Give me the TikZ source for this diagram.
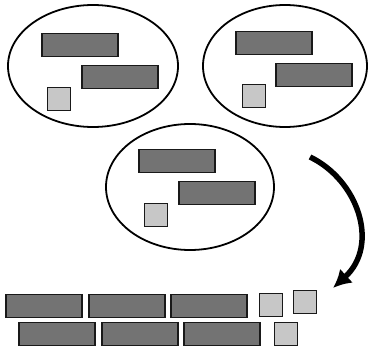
\documentclass[tikz,border=0pt]{standalone}
\usetikzlibrary{arrows.meta}
\begin{document}
\begin{tikzpicture}[x=1pt,y=-1pt,>={Latex[length=18pt,width=19pt]},
  bar/.style={draw=black!90,line width=1.6pt,fill=black!55,minimum width=76pt,minimum height=23pt,inner sep=0pt},
  chip/.style={draw=black!90,line width=1.6pt,fill=black!22,minimum width=23pt,minimum height=23pt,inner sep=0pt}]
\useasboundingbox (0,0) rectangle (368,348);
% groups
\draw[line width=1.8pt] (93,66) ellipse (85pt and 61pt);
\draw[line width=1.8pt] (285,66) ellipse (82pt and 61pt);
\draw[line width=1.8pt] (190,187) ellipse (84pt and 63pt);
\node[bar] (a1) at (80,45) {};
\node[bar] (a2) at (120,77) {};
\node[chip] (a3) at (59,99) {};
\node[bar] (b1) at (274,43) {};
\node[bar] (b2) at (314,75) {};
\node[chip] (b3) at (254,96) {};
\node[bar] (c1) at (177,161) {};
\node[bar] (c2) at (217,193) {};
\node[chip] (c3) at (156,215) {};
% merged row
\node[bar] (r1) at (44,306) {};
\node[bar] (r2) at (127,306) {};
\node[bar] (r3) at (209,306) {};
\node[chip] (r4) at (271,305) {};
\node[chip] (r5) at (305,302) {};
\node[bar] (s1) at (57,334) {};
\node[bar] (s2) at (140,334) {};
\node[bar] (s3) at (222,334) {};
\node[chip] (s4) at (286,334) {};
% arrow
\coordinate (from) at (310,157);
\coordinate (to) at (333,288);
\draw[->,line width=5.5pt] (from) .. controls (358,180) and (380,245) .. (to);
\end{tikzpicture}
\end{document}
